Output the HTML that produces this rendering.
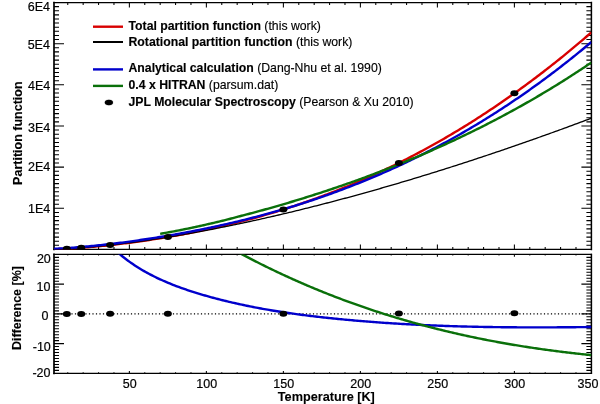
<!DOCTYPE html>
<html><head><meta charset="utf-8"><style>
html,body{margin:0;padding:0;background:#fff;}
body{width:600px;height:404px;overflow:hidden;}
svg{display:block;will-change:transform;}
</style></head><body>
<svg width="600" height="404" viewBox="0 0 600 404"><defs><clipPath id="cu"><rect x="54.00" y="2.50" width="537.40" height="246.95"/></clipPath><clipPath id="cl"><rect x="54.00" y="254.38" width="537.40" height="118.96"/></clipPath></defs><g fill="none" stroke="#000" stroke-linecap="square"><path d="M54.0,2.5H591.4M54.0,249.45H591.4M54.0,254.38H591.4M54.0,373.34H591.4" stroke-width="1.25"/><path d="M54.0,2.5V249.45M54.0,254.38V373.34" stroke-width="1.7"/><path d="M591.4,2.5V249.45M591.4,254.38V373.34" stroke-width="1.5"/></g><g fill="none" stroke="#000"><path d="M67.76,249.45v-2.45M67.76,2.5v2.45M67.76,373.34v-1.2M67.76,254.38v1.2M83.16,249.45v-2.45M83.16,2.5v2.45M83.16,373.34v-1.2M83.16,254.38v1.2M98.56,249.45v-2.45M98.56,2.5v2.45M98.56,373.34v-1.2M98.56,254.38v1.2M113.96,249.45v-2.45M113.96,2.5v2.45M113.96,373.34v-1.2M113.96,254.38v1.2M129.37,249.45v-4.9M129.37,2.5v4.9M129.37,373.34v-2.4M129.37,254.38v2.4M144.77,249.45v-2.45M144.77,2.5v2.45M144.77,373.34v-1.2M144.77,254.38v1.2M160.17,249.45v-2.45M160.17,2.5v2.45M160.17,373.34v-1.2M160.17,254.38v1.2M175.57,249.45v-2.45M175.57,2.5v2.45M175.57,373.34v-1.2M175.57,254.38v1.2M190.97,249.45v-2.45M190.97,2.5v2.45M190.97,373.34v-1.2M190.97,254.38v1.2M206.37,249.45v-4.9M206.37,2.5v4.9M206.37,373.34v-2.4M206.37,254.38v2.4M221.77,249.45v-2.45M221.77,2.5v2.45M221.77,373.34v-1.2M221.77,254.38v1.2M237.17,249.45v-2.45M237.17,2.5v2.45M237.17,373.34v-1.2M237.17,254.38v1.2M252.57,249.45v-2.45M252.57,2.5v2.45M252.57,373.34v-1.2M252.57,254.38v1.2M267.97,249.45v-2.45M267.97,2.5v2.45M267.97,373.34v-1.2M267.97,254.38v1.2M283.38,249.45v-4.9M283.38,2.5v4.9M283.38,373.34v-2.4M283.38,254.38v2.4M298.78,249.45v-2.45M298.78,2.5v2.45M298.78,373.34v-1.2M298.78,254.38v1.2M314.18,249.45v-2.45M314.18,2.5v2.45M314.18,373.34v-1.2M314.18,254.38v1.2M329.58,249.45v-2.45M329.58,2.5v2.45M329.58,373.34v-1.2M329.58,254.38v1.2M344.98,249.45v-2.45M344.98,2.5v2.45M344.98,373.34v-1.2M344.98,254.38v1.2M360.38,249.45v-4.9M360.38,2.5v4.9M360.38,373.34v-2.4M360.38,254.38v2.4M375.78,249.45v-2.45M375.78,2.5v2.45M375.78,373.34v-1.2M375.78,254.38v1.2M391.18,249.45v-2.45M391.18,2.5v2.45M391.18,373.34v-1.2M391.18,254.38v1.2M406.58,249.45v-2.45M406.58,2.5v2.45M406.58,373.34v-1.2M406.58,254.38v1.2M421.98,249.45v-2.45M421.98,2.5v2.45M421.98,373.34v-1.2M421.98,254.38v1.2M437.39,249.45v-4.9M437.39,2.5v4.9M437.39,373.34v-2.4M437.39,254.38v2.4M452.79,249.45v-2.45M452.79,2.5v2.45M452.79,373.34v-1.2M452.79,254.38v1.2M468.19,249.45v-2.45M468.19,2.5v2.45M468.19,373.34v-1.2M468.19,254.38v1.2M483.59,249.45v-2.45M483.59,2.5v2.45M483.59,373.34v-1.2M483.59,254.38v1.2M498.99,249.45v-2.45M498.99,2.5v2.45M498.99,373.34v-1.2M498.99,254.38v1.2M514.39,249.45v-4.9M514.39,2.5v4.9M514.39,373.34v-2.4M514.39,254.38v2.4M529.79,249.45v-2.45M529.79,2.5v2.45M529.79,373.34v-1.2M529.79,254.38v1.2M545.19,249.45v-2.45M545.19,2.5v2.45M545.19,373.34v-1.2M545.19,254.38v1.2M560.59,249.45v-2.45M560.59,2.5v2.45M560.59,373.34v-1.2M560.59,254.38v1.2M575.99,249.45v-2.45M575.99,2.5v2.45M575.99,373.34v-1.2M575.99,254.38v1.2M54.0,245.33h5M591.4,245.33h-5M54.0,241.22h5M591.4,241.22h-5M54.0,237.10h5M591.4,237.10h-5M54.0,232.99h5M591.4,232.99h-5M54.0,228.87h5M591.4,228.87h-5M54.0,224.75h5M591.4,224.75h-5M54.0,220.64h5M591.4,220.64h-5M54.0,216.52h5M591.4,216.52h-5M54.0,212.41h5M591.4,212.41h-5M54.0,208.29h10M591.4,208.29h-10M54.0,204.18h5M591.4,204.18h-5M54.0,200.06h5M591.4,200.06h-5M54.0,195.94h5M591.4,195.94h-5M54.0,191.83h5M591.4,191.83h-5M54.0,187.71h5M591.4,187.71h-5M54.0,183.60h5M591.4,183.60h-5M54.0,179.48h5M591.4,179.48h-5M54.0,175.37h5M591.4,175.37h-5M54.0,171.25h5M591.4,171.25h-5M54.0,167.13h10M591.4,167.13h-10M54.0,163.02h5M591.4,163.02h-5M54.0,158.90h5M591.4,158.90h-5M54.0,154.79h5M591.4,154.79h-5M54.0,150.67h5M591.4,150.67h-5M54.0,146.55h5M591.4,146.55h-5M54.0,142.44h5M591.4,142.44h-5M54.0,138.32h5M591.4,138.32h-5M54.0,134.21h5M591.4,134.21h-5M54.0,130.09h5M591.4,130.09h-5M54.0,125.97h10M591.4,125.97h-10M54.0,121.86h5M591.4,121.86h-5M54.0,117.74h5M591.4,117.74h-5M54.0,113.63h5M591.4,113.63h-5M54.0,109.51h5M591.4,109.51h-5M54.0,105.40h5M591.4,105.40h-5M54.0,101.28h5M591.4,101.28h-5M54.0,97.16h5M591.4,97.16h-5M54.0,93.05h5M591.4,93.05h-5M54.0,88.93h5M591.4,88.93h-5M54.0,84.82h10M591.4,84.82h-10M54.0,80.70h5M591.4,80.70h-5M54.0,76.59h5M591.4,76.59h-5M54.0,72.47h5M591.4,72.47h-5M54.0,68.35h5M591.4,68.35h-5M54.0,64.24h5M591.4,64.24h-5M54.0,60.12h5M591.4,60.12h-5M54.0,56.01h5M591.4,56.01h-5M54.0,51.89h5M591.4,51.89h-5M54.0,47.77h5M591.4,47.77h-5M54.0,43.66h10M591.4,43.66h-10M54.0,39.54h5M591.4,39.54h-5M54.0,35.43h5M591.4,35.43h-5M54.0,31.31h5M591.4,31.31h-5M54.0,27.19h5M591.4,27.19h-5M54.0,23.08h5M591.4,23.08h-5M54.0,18.96h5M591.4,18.96h-5M54.0,14.85h5M591.4,14.85h-5M54.0,10.73h5M591.4,10.73h-5M54.0,6.62h5M591.4,6.62h-5M54.0,370.37h5M591.4,370.37h-5M54.0,367.39h5M591.4,367.39h-5M54.0,364.42h5M591.4,364.42h-5M54.0,361.44h5M591.4,361.44h-5M54.0,358.47h5M591.4,358.47h-5M54.0,355.50h5M591.4,355.50h-5M54.0,352.52h5M591.4,352.52h-5M54.0,349.55h5M591.4,349.55h-5M54.0,346.57h5M591.4,346.57h-5M54.0,343.60h10M591.4,343.60h-10M54.0,340.63h5M591.4,340.63h-5M54.0,337.65h5M591.4,337.65h-5M54.0,334.68h5M591.4,334.68h-5M54.0,331.70h5M591.4,331.70h-5M54.0,328.73h5M591.4,328.73h-5M54.0,325.76h5M591.4,325.76h-5M54.0,322.78h5M591.4,322.78h-5M54.0,319.81h5M591.4,319.81h-5M54.0,316.83h5M591.4,316.83h-5M54.0,313.86h10M591.4,313.86h-10M54.0,310.89h5M591.4,310.89h-5M54.0,307.91h5M591.4,307.91h-5M54.0,304.94h5M591.4,304.94h-5M54.0,301.96h5M591.4,301.96h-5M54.0,298.99h5M591.4,298.99h-5M54.0,296.02h5M591.4,296.02h-5M54.0,293.04h5M591.4,293.04h-5M54.0,290.07h5M591.4,290.07h-5M54.0,287.09h5M591.4,287.09h-5M54.0,284.12h10M591.4,284.12h-10M54.0,281.15h5M591.4,281.15h-5M54.0,278.17h5M591.4,278.17h-5M54.0,275.20h5M591.4,275.20h-5M54.0,272.22h5M591.4,272.22h-5M54.0,269.25h5M591.4,269.25h-5M54.0,266.28h5M591.4,266.28h-5M54.0,263.30h5M591.4,263.30h-5M54.0,260.33h5M591.4,260.33h-5M54.0,257.35h5M591.4,257.35h-5" stroke-width="1.05"/></g><g clip-path="url(#cu)" fill="none" stroke-linejoin="round"><path d="M53.90,249.18 L55.70,249.15 L57.50,249.10 L59.29,249.04 L61.09,248.98 L62.89,248.90 L64.69,248.82 L66.48,248.73 L68.28,248.64 L70.08,248.54 L71.88,248.43 L73.67,248.32 L75.47,248.20 L77.27,248.07 L79.07,247.95 L80.86,247.81 L82.66,247.67 L84.46,247.53 L86.26,247.39 L88.06,247.24 L89.85,247.08 L91.65,246.92 L93.45,246.76 L95.25,246.59 L97.04,246.42 L98.84,246.24 L100.64,246.06 L102.44,245.88 L104.23,245.70 L106.03,245.51 L107.83,245.31 L109.63,245.12 L111.43,244.92 L113.22,244.71 L115.02,244.51 L116.82,244.30 L118.62,244.08 L120.41,243.87 L122.21,243.65 L124.01,243.42 L125.81,243.19 L127.60,242.96 L129.40,242.73 L131.20,242.50 L133.00,242.26 L134.79,242.01 L136.59,241.77 L138.39,241.52 L140.19,241.27 L141.99,241.01 L143.78,240.75 L145.58,240.49 L147.38,240.22 L149.18,239.95 L150.97,239.68 L152.77,239.41 L154.57,239.13 L156.37,238.85 L158.16,238.56 L159.96,238.27 L161.76,237.98 L163.56,237.69 L165.35,237.39 L167.15,237.09 L168.95,236.78 L170.75,236.47 L172.55,236.16 L174.34,235.85 L176.14,235.53 L177.94,235.20 L179.74,234.88 L181.53,234.55 L183.33,234.22 L185.13,233.88 L186.93,233.54 L188.72,233.20 L190.52,232.85 L192.32,232.50 L194.12,232.14 L195.92,231.78 L197.71,231.42 L199.51,231.05 L201.31,230.68 L203.11,230.31 L204.90,229.93 L206.70,229.55 L208.50,229.17 L210.30,228.78 L212.09,228.39 L213.89,227.99 L215.69,227.59 L217.49,227.18 L219.28,226.78 L221.08,226.36 L222.88,225.95 L224.68,225.53 L226.48,225.10 L228.27,224.67 L230.07,224.24 L231.87,223.80 L233.67,223.36 L235.46,222.92 L237.26,222.47 L239.06,222.01 L240.86,221.56 L242.65,221.09 L244.45,220.63 L246.25,220.16 L248.05,219.68 L249.84,219.20 L251.64,218.72 L253.44,218.23 L255.24,217.74 L257.04,217.24 L258.83,216.74 L260.63,216.24 L262.43,215.73 L264.23,215.21 L266.02,214.70 L267.82,214.17 L269.62,213.65 L271.42,213.11 L273.21,212.58 L275.01,212.04 L276.81,211.49 L278.61,210.94 L280.41,210.39 L282.20,209.83 L284.00,209.26 L285.80,208.69 L287.60,208.12 L289.39,207.54 L291.19,206.96 L292.99,206.37 L294.79,205.78 L296.58,205.19 L298.38,204.58 L300.18,203.98 L301.98,203.37 L303.77,202.75 L305.57,202.13 L307.37,201.50 L309.17,200.87 L310.97,200.24 L312.76,199.60 L314.56,198.95 L316.36,198.30 L318.16,197.65 L319.95,196.99 L321.75,196.32 L323.55,195.65 L325.35,194.98 L327.14,194.30 L328.94,193.61 L330.74,192.92 L332.54,192.23 L334.33,191.53 L336.13,190.82 L337.93,190.11 L339.73,189.40 L341.53,188.68 L343.32,187.95 L345.12,187.22 L346.92,186.49 L348.72,185.75 L350.51,185.00 L352.31,184.25 L354.11,183.49 L355.91,182.73 L357.70,181.96 L359.50,181.19 L361.30,180.41 L363.10,179.63 L364.89,178.84 L366.69,178.05 L368.49,177.25 L370.29,176.44 L372.09,175.63 L373.88,174.82 L375.68,174.00 L377.48,173.17 L379.28,172.34 L381.07,171.50 L382.87,170.66 L384.67,169.81 L386.47,168.96 L388.26,168.10 L390.06,167.24 L391.86,166.37 L393.66,165.49 L395.46,164.61 L397.25,163.72 L399.05,162.83 L400.85,161.93 L402.65,161.03 L404.44,160.12 L406.24,159.21 L408.04,158.29 L409.84,157.36 L411.63,156.43 L413.43,155.49 L415.23,154.55 L417.03,153.60 L418.82,152.64 L420.62,151.68 L422.42,150.72 L424.22,149.75 L426.02,148.77 L427.81,147.79 L429.61,146.80 L431.41,145.80 L433.21,144.80 L435.00,143.79 L436.80,142.78 L438.60,141.76 L440.40,140.74 L442.19,139.71 L443.99,138.67 L445.79,137.63 L447.59,136.58 L449.38,135.53 L451.18,134.47 L452.98,133.40 L454.78,132.33 L456.58,131.25 L458.37,130.17 L460.17,129.08 L461.97,127.98 L463.77,126.88 L465.56,125.77 L467.36,124.66 L469.16,123.54 L470.96,122.41 L472.75,121.28 L474.55,120.14 L476.35,118.99 L478.15,117.84 L479.95,116.68 L481.74,115.52 L483.54,114.35 L485.34,113.17 L487.14,111.99 L488.93,110.80 L490.73,109.61 L492.53,108.41 L494.33,107.20 L496.12,105.99 L497.92,104.77 L499.72,103.54 L501.52,102.31 L503.31,101.07 L505.11,99.83 L506.91,98.57 L508.71,97.32 L510.51,96.05 L512.30,94.78 L514.10,93.50 L515.90,92.22 L517.70,90.93 L519.49,89.64 L521.29,88.33 L523.09,87.02 L524.89,85.71 L526.68,84.39 L528.48,83.06 L530.28,81.72 L532.08,80.38 L533.87,79.03 L535.67,77.68 L537.47,76.31 L539.27,74.95 L541.07,73.57 L542.86,72.19 L544.66,70.80 L546.46,69.41 L548.26,68.01 L550.05,66.60 L551.85,65.18 L553.65,63.76 L555.45,62.34 L557.24,60.90 L559.04,59.46 L560.84,58.01 L562.64,56.56 L564.44,55.10 L566.23,53.63 L568.03,52.15 L569.83,50.67 L571.63,49.18 L573.42,47.69 L575.22,46.18 L577.02,44.68 L578.82,43.16 L580.61,41.64 L582.41,40.11 L584.21,38.57 L586.01,37.03 L587.80,35.48 L589.60,33.92 L591.40,32.36" stroke="#d80000" stroke-width="2.4"/><path d="M53.90,249.18 L55.70,249.15 L57.50,249.10 L59.29,249.04 L61.09,248.98 L62.89,248.90 L64.69,248.82 L66.48,248.73 L68.28,248.64 L70.08,248.54 L71.88,248.43 L73.67,248.32 L75.47,248.20 L77.27,248.07 L79.07,247.95 L80.86,247.81 L82.66,247.67 L84.46,247.53 L86.26,247.39 L88.06,247.24 L89.85,247.08 L91.65,246.92 L93.45,246.76 L95.25,246.59 L97.04,246.42 L98.84,246.24 L100.64,246.06 L102.44,245.88 L104.23,245.70 L106.03,245.51 L107.83,245.31 L109.63,245.12 L111.43,244.92 L113.22,244.71 L115.02,244.51 L116.82,244.30 L118.62,244.08 L120.41,243.87 L122.21,243.65 L124.01,243.43 L125.81,243.20 L127.60,242.97 L129.40,242.74 L131.20,242.51 L133.00,242.27 L134.79,242.03 L136.59,241.78 L138.39,241.54 L140.19,241.29 L141.99,241.04 L143.78,240.78 L145.58,240.52 L147.38,240.26 L149.18,240.00 L150.97,239.74 L152.77,239.47 L154.57,239.20 L156.37,238.92 L158.16,238.65 L159.96,238.37 L161.76,238.09 L163.56,237.80 L165.35,237.52 L167.15,237.23 L168.95,236.94 L170.75,236.64 L172.55,236.35 L174.34,236.05 L176.14,235.75 L177.94,235.44 L179.74,235.14 L181.53,234.83 L183.33,234.52 L185.13,234.21 L186.93,233.89 L188.72,233.57 L190.52,233.25 L192.32,232.93 L194.12,232.61 L195.92,232.28 L197.71,231.95 L199.51,231.62 L201.31,231.29 L203.11,230.95 L204.90,230.61 L206.70,230.27 L208.50,229.93 L210.30,229.59 L212.09,229.24 L213.89,228.89 L215.69,228.54 L217.49,228.19 L219.28,227.83 L221.08,227.48 L222.88,227.12 L224.68,226.76 L226.48,226.39 L228.27,226.03 L230.07,225.66 L231.87,225.29 L233.67,224.92 L235.46,224.55 L237.26,224.17 L239.06,223.79 L240.86,223.41 L242.65,223.03 L244.45,222.65 L246.25,222.26 L248.05,221.88 L249.84,221.49 L251.64,221.10 L253.44,220.70 L255.24,220.31 L257.04,219.91 L258.83,219.51 L260.63,219.11 L262.43,218.71 L264.23,218.30 L266.02,217.90 L267.82,217.49 L269.62,217.08 L271.42,216.67 L273.21,216.25 L275.01,215.84 L276.81,215.42 L278.61,215.00 L280.41,214.58 L282.20,214.16 L284.00,213.73 L285.80,213.30 L287.60,212.88 L289.39,212.45 L291.19,212.01 L292.99,211.58 L294.79,211.14 L296.58,210.71 L298.38,210.27 L300.18,209.83 L301.98,209.38 L303.77,208.94 L305.57,208.49 L307.37,208.04 L309.17,207.59 L310.97,207.14 L312.76,206.69 L314.56,206.24 L316.36,205.78 L318.16,205.32 L319.95,204.86 L321.75,204.40 L323.55,203.94 L325.35,203.47 L327.14,203.00 L328.94,202.54 L330.74,202.07 L332.54,201.59 L334.33,201.12 L336.13,200.65 L337.93,200.17 L339.73,199.69 L341.53,199.21 L343.32,198.73 L345.12,198.25 L346.92,197.76 L348.72,197.27 L350.51,196.79 L352.31,196.30 L354.11,195.81 L355.91,195.31 L357.70,194.82 L359.50,194.32 L361.30,193.82 L363.10,193.33 L364.89,192.82 L366.69,192.32 L368.49,191.82 L370.29,191.31 L372.09,190.81 L373.88,190.30 L375.68,189.79 L377.48,189.27 L379.28,188.76 L381.07,188.25 L382.87,187.73 L384.67,187.21 L386.47,186.69 L388.26,186.17 L390.06,185.65 L391.86,185.12 L393.66,184.60 L395.46,184.07 L397.25,183.54 L399.05,183.01 L400.85,182.48 L402.65,181.95 L404.44,181.41 L406.24,180.88 L408.04,180.34 L409.84,179.80 L411.63,179.26 L413.43,178.72 L415.23,178.17 L417.03,177.63 L418.82,177.08 L420.62,176.53 L422.42,175.98 L424.22,175.43 L426.02,174.88 L427.81,174.33 L429.61,173.77 L431.41,173.22 L433.21,172.66 L435.00,172.10 L436.80,171.54 L438.60,170.97 L440.40,170.41 L442.19,169.84 L443.99,169.28 L445.79,168.71 L447.59,168.14 L449.38,167.57 L451.18,167.00 L452.98,166.42 L454.78,165.85 L456.58,165.27 L458.37,164.69 L460.17,164.11 L461.97,163.53 L463.77,162.95 L465.56,162.37 L467.36,161.78 L469.16,161.19 L470.96,160.61 L472.75,160.02 L474.55,159.43 L476.35,158.83 L478.15,158.24 L479.95,157.65 L481.74,157.05 L483.54,156.45 L485.34,155.85 L487.14,155.25 L488.93,154.65 L490.73,154.05 L492.53,153.44 L494.33,152.84 L496.12,152.23 L497.92,151.62 L499.72,151.01 L501.52,150.40 L503.31,149.79 L505.11,149.18 L506.91,148.56 L508.71,147.94 L510.51,147.33 L512.30,146.71 L514.10,146.09 L515.90,145.47 L517.70,144.84 L519.49,144.22 L521.29,143.59 L523.09,142.97 L524.89,142.34 L526.68,141.71 L528.48,141.08 L530.28,140.44 L532.08,139.81 L533.87,139.18 L535.67,138.54 L537.47,137.90 L539.27,137.26 L541.07,136.62 L542.86,135.98 L544.66,135.34 L546.46,134.70 L548.26,134.05 L550.05,133.40 L551.85,132.76 L553.65,132.11 L555.45,131.46 L557.24,130.81 L559.04,130.15 L560.84,129.50 L562.64,128.84 L564.44,128.19 L566.23,127.53 L568.03,126.87 L569.83,126.21 L571.63,125.55 L573.42,124.89 L575.22,124.22 L577.02,123.56 L578.82,122.89 L580.61,122.22 L582.41,121.55 L584.21,120.88 L586.01,120.21 L587.80,119.54 L589.60,118.86 L591.40,118.19" stroke="#000" stroke-width="1.3"/><path d="M53.90,248.90 L55.70,248.77 L57.50,248.66 L59.29,248.56 L61.09,248.45 L62.89,248.34 L64.69,248.23 L66.48,248.11 L68.28,247.99 L70.08,247.86 L71.88,247.73 L73.67,247.60 L75.47,247.46 L77.27,247.31 L79.07,247.17 L80.86,247.02 L82.66,246.86 L84.46,246.70 L86.26,246.54 L88.06,246.38 L89.85,246.21 L91.65,246.03 L93.45,245.85 L95.25,245.67 L97.04,245.49 L98.84,245.30 L100.64,245.11 L102.44,244.92 L104.23,244.72 L106.03,244.52 L107.83,244.31 L109.63,244.10 L111.43,243.89 L113.22,243.68 L115.02,243.46 L116.82,243.24 L118.62,243.02 L120.41,242.79 L122.21,242.57 L124.01,242.33 L125.81,242.09 L127.60,241.84 L129.40,241.60 L131.20,241.35 L133.00,241.10 L134.79,240.84 L136.59,240.58 L138.39,240.33 L140.19,240.06 L141.99,239.80 L143.78,239.53 L145.58,239.26 L147.38,238.99 L149.18,238.71 L150.97,238.43 L152.77,238.15 L154.57,237.87 L156.37,237.58 L158.16,237.29 L159.96,237.00 L161.76,236.71 L163.56,236.41 L165.35,236.11 L167.15,235.81 L168.95,235.50 L170.75,235.19 L172.55,234.88 L174.34,234.57 L176.14,234.25 L177.94,233.93 L179.74,233.60 L181.53,233.28 L183.33,232.95 L185.13,232.61 L186.93,232.28 L188.72,231.94 L190.52,231.60 L192.32,231.25 L194.12,230.90 L195.92,230.55 L197.71,230.20 L199.51,229.84 L201.31,229.48 L203.11,229.11 L204.90,228.75 L206.70,228.37 L208.50,228.00 L210.30,227.62 L212.09,227.24 L213.89,226.86 L215.69,226.47 L217.49,226.08 L219.28,225.69 L221.08,225.29 L222.88,224.89 L224.68,224.48 L226.48,224.08 L228.27,223.67 L230.07,223.25 L231.87,222.83 L233.67,222.41 L235.46,221.99 L237.26,221.56 L239.06,221.12 L240.86,220.69 L242.65,220.25 L244.45,219.80 L246.25,219.36 L248.05,218.91 L249.84,218.45 L251.64,217.99 L253.44,217.53 L255.24,217.06 L257.04,216.59 L258.83,216.12 L260.63,215.64 L262.43,215.16 L264.23,214.67 L266.02,214.18 L267.82,213.69 L269.62,213.19 L271.42,212.69 L273.21,212.19 L275.01,211.68 L276.81,211.16 L278.61,210.64 L280.41,210.12 L282.20,209.60 L284.00,209.07 L285.80,208.53 L287.60,207.99 L289.39,207.45 L291.19,206.90 L292.99,206.35 L294.79,205.79 L296.58,205.23 L298.38,204.67 L300.18,204.10 L301.98,203.53 L303.77,202.95 L305.57,202.37 L307.37,201.78 L309.17,201.19 L310.97,200.60 L312.76,200.00 L314.56,199.39 L316.36,198.79 L318.16,198.17 L319.95,197.56 L321.75,196.93 L323.55,196.31 L325.35,195.68 L327.14,195.04 L328.94,194.40 L330.74,193.76 L332.54,193.11 L334.33,192.46 L336.13,191.80 L337.93,191.14 L339.73,190.47 L341.53,189.80 L343.32,189.12 L345.12,188.44 L346.92,187.75 L348.72,187.06 L350.51,186.37 L352.31,185.67 L354.11,184.96 L355.91,184.25 L357.70,183.54 L359.50,182.82 L361.30,182.09 L363.10,181.37 L364.89,180.63 L366.69,179.89 L368.49,179.15 L370.29,178.40 L372.09,177.65 L373.88,176.89 L375.68,176.12 L377.48,175.35 L379.28,174.58 L381.07,173.80 L382.87,173.02 L384.67,172.23 L386.47,171.43 L388.26,170.63 L390.06,169.83 L391.86,169.02 L393.66,168.20 L395.46,167.38 L397.25,166.56 L399.05,165.73 L400.85,164.89 L402.65,164.05 L404.44,163.20 L406.24,162.35 L408.04,161.49 L409.84,160.63 L411.63,159.76 L413.43,158.88 L415.23,158.00 L417.03,157.12 L418.82,156.23 L420.62,155.33 L422.42,154.43 L424.22,153.52 L426.02,152.61 L427.81,151.69 L429.61,150.77 L431.41,149.84 L433.21,148.90 L435.00,147.96 L436.80,147.01 L438.60,146.06 L440.40,145.10 L442.19,144.14 L443.99,143.17 L445.79,142.19 L447.59,141.21 L449.38,140.22 L451.18,139.23 L452.98,138.23 L454.78,137.22 L456.58,136.21 L458.37,135.19 L460.17,134.17 L461.97,133.14 L463.77,132.11 L465.56,131.06 L467.36,130.02 L469.16,128.96 L470.96,127.90 L472.75,126.84 L474.55,125.76 L476.35,124.69 L478.15,123.60 L479.95,122.51 L481.74,121.41 L483.54,120.31 L485.34,119.20 L487.14,118.09 L488.93,116.96 L490.73,115.84 L492.53,114.70 L494.33,113.56 L496.12,112.41 L497.92,111.26 L499.72,110.10 L501.52,108.93 L503.31,107.76 L505.11,106.58 L506.91,105.39 L508.71,104.20 L510.51,103.00 L512.30,101.80 L514.10,100.58 L515.90,99.37 L517.70,98.14 L519.49,96.91 L521.29,95.67 L523.09,94.42 L524.89,93.17 L526.68,91.91 L528.48,90.65 L530.28,89.38 L532.08,88.10 L533.87,86.81 L535.67,85.52 L537.47,84.22 L539.27,82.91 L541.07,81.60 L542.86,80.28 L544.66,78.95 L546.46,77.62 L548.26,76.28 L550.05,74.93 L551.85,73.58 L553.65,72.22 L555.45,70.85 L557.24,69.47 L559.04,68.09 L560.84,66.70 L562.64,65.31 L564.44,63.90 L566.23,62.49 L568.03,61.07 L569.83,59.65 L571.63,58.22 L573.42,56.78 L575.22,55.33 L577.02,53.88 L578.82,52.42 L580.61,50.95 L582.41,49.48 L584.21,48.00 L586.01,46.51 L587.80,45.01 L589.60,43.51 L591.40,42.00" stroke="#0000cc" stroke-width="2.4"/><path d="M160.17,233.86 L161.90,233.55 L163.63,233.24 L165.36,232.93 L167.09,232.61 L168.83,232.29 L170.56,231.97 L172.29,231.64 L174.02,231.32 L175.75,230.98 L177.49,230.65 L179.22,230.31 L180.95,229.97 L182.68,229.62 L184.41,229.27 L186.14,228.92 L187.88,228.57 L189.61,228.21 L191.34,227.85 L193.07,227.48 L194.80,227.11 L196.54,226.74 L198.27,226.36 L200.00,225.98 L201.73,225.60 L203.46,225.21 L205.20,224.82 L206.93,224.43 L208.66,224.03 L210.39,223.63 L212.12,223.23 L213.85,222.82 L215.59,222.41 L217.32,221.99 L219.05,221.57 L220.78,221.15 L222.51,220.72 L224.25,220.29 L225.98,219.86 L227.71,219.42 L229.44,218.98 L231.17,218.53 L232.91,218.08 L234.64,217.63 L236.37,217.17 L238.10,216.71 L239.83,216.24 L241.56,215.77 L243.30,215.33 L245.03,214.88 L246.76,214.43 L248.49,213.97 L250.22,213.51 L251.96,213.05 L253.69,212.59 L255.42,212.12 L257.15,211.65 L258.88,211.18 L260.61,210.71 L262.35,210.23 L264.08,209.75 L265.81,209.27 L267.54,208.79 L269.27,208.30 L271.01,207.81 L272.74,207.32 L274.47,206.83 L276.20,206.33 L277.93,205.83 L279.67,205.33 L281.40,204.83 L283.13,204.32 L284.86,203.81 L286.59,203.30 L288.32,202.79 L290.06,202.27 L291.79,201.75 L293.52,201.23 L295.25,200.71 L296.98,200.18 L298.72,199.65 L300.45,199.12 L302.18,198.58 L303.91,198.05 L305.64,197.51 L307.38,196.96 L309.11,196.42 L310.84,195.87 L312.57,195.32 L314.30,194.76 L316.03,194.21 L317.77,193.65 L319.50,193.09 L321.23,192.52 L322.96,191.96 L324.69,191.39 L326.43,190.81 L328.16,190.24 L329.89,189.66 L331.62,189.08 L333.35,188.50 L335.08,187.91 L336.82,187.32 L338.55,186.73 L340.28,186.14 L342.01,185.54 L343.74,184.94 L345.48,184.33 L347.21,183.73 L348.94,183.12 L350.67,182.51 L352.40,181.89 L354.14,181.27 L355.87,180.65 L357.60,180.03 L359.33,179.40 L361.06,178.77 L362.79,178.14 L364.53,177.51 L366.26,176.87 L367.99,176.23 L369.72,175.58 L371.45,174.94 L373.19,174.29 L374.92,173.63 L376.65,172.98 L378.38,172.32 L380.11,171.65 L381.85,170.99 L383.58,170.32 L385.31,169.65 L387.04,168.97 L388.77,168.29 L390.50,167.61 L392.24,166.93 L393.97,166.24 L395.70,165.55 L397.43,164.86 L399.16,164.16 L400.90,163.46 L402.63,162.75 L404.36,162.05 L406.09,161.34 L407.82,160.62 L409.55,159.91 L411.29,159.19 L413.02,158.46 L414.75,157.74 L416.48,157.00 L418.21,156.27 L419.95,155.53 L421.68,154.79 L423.41,154.05 L425.14,153.30 L426.87,152.55 L428.61,151.80 L430.34,151.04 L432.07,150.28 L433.80,149.51 L435.53,148.74 L437.26,147.97 L439.00,147.19 L440.73,146.42 L442.46,145.63 L444.19,144.85 L445.92,144.06 L447.66,143.26 L449.39,142.46 L451.12,141.66 L452.85,140.86 L454.58,140.05 L456.31,139.23 L458.05,138.42 L459.78,137.60 L461.51,136.77 L463.24,135.95 L464.97,135.11 L466.71,134.28 L468.44,133.44 L470.17,132.59 L471.90,131.75 L473.63,130.89 L475.37,130.04 L477.10,129.18 L478.83,128.32 L480.56,127.45 L482.29,126.58 L484.02,125.70 L485.76,124.82 L487.49,123.94 L489.22,123.05 L490.95,122.16 L492.68,121.26 L494.42,120.36 L496.15,119.45 L497.88,118.54 L499.61,117.63 L501.34,116.71 L503.08,115.79 L504.81,114.86 L506.54,113.93 L508.27,113.00 L510.00,112.06 L511.73,111.11 L513.47,110.17 L515.20,109.21 L516.93,108.26 L518.66,107.29 L520.39,106.33 L522.13,105.36 L523.86,104.38 L525.59,103.40 L527.32,102.41 L529.05,101.42 L530.78,100.43 L532.52,99.43 L534.25,98.43 L535.98,97.42 L537.71,96.41 L539.44,95.39 L541.18,94.37 L542.91,93.34 L544.64,92.31 L546.37,91.27 L548.10,90.23 L549.84,89.18 L551.57,88.13 L553.30,87.07 L555.03,86.01 L556.76,84.94 L558.49,83.87 L560.23,82.79 L561.96,81.71 L563.69,80.62 L565.42,79.53 L567.15,78.43 L568.89,77.33 L570.62,76.22 L572.35,75.11 L574.08,73.99 L575.81,72.86 L577.55,71.74 L579.28,70.60 L581.01,69.46 L582.74,68.32 L584.47,67.17 L586.20,66.01 L587.94,64.85 L589.67,63.68 L591.40,62.51" stroke="#0a700a" stroke-width="2.4"/></g><g clip-path="url(#cu)"><ellipse cx="66.80" cy="248.72" rx="4" ry="3" fill="#000"/><ellipse cx="81.24" cy="247.78" rx="4" ry="3" fill="#000"/><ellipse cx="110.11" cy="245.06" rx="4" ry="3" fill="#000"/><ellipse cx="167.87" cy="236.97" rx="4" ry="3" fill="#000"/><ellipse cx="283.38" cy="209.46" rx="4" ry="3" fill="#000"/><ellipse cx="398.88" cy="162.91" rx="4" ry="3" fill="#000"/><ellipse cx="514.39" cy="93.30" rx="4" ry="3" fill="#000"/></g><g clip-path="url(#cl)" fill="none" stroke-linejoin="round"><line x1="53.9" y1="313.9" x2="591.4" y2="313.9" stroke="#000" stroke-width="1.2" stroke-dasharray="1.2 2.3"/><path d="M112.00,247.37 L113.60,248.85 L115.21,250.30 L116.81,251.71 L118.41,253.09 L120.02,254.44 L121.62,255.75 L123.22,257.03 L124.83,258.28 L126.43,259.50 L128.03,260.69 L129.64,261.85 L131.24,262.98 L132.84,264.08 L134.45,265.16 L136.05,266.21 L137.65,267.24 L139.26,268.24 L140.86,269.21 L142.46,270.16 L144.07,271.09 L145.67,272.00 L147.27,272.89 L148.88,273.75 L150.48,274.60 L152.08,275.43 L153.69,276.24 L155.29,277.03 L156.89,277.80 L158.50,278.56 L160.10,279.30 L161.70,280.03 L163.31,280.75 L164.91,281.45 L166.51,282.14 L168.12,282.81 L169.72,283.47 L171.32,284.13 L172.93,284.76 L174.53,285.39 L176.13,286.01 L177.74,286.61 L179.34,287.21 L180.94,287.79 L182.55,288.37 L184.15,288.93 L185.75,289.49 L187.36,290.03 L188.96,290.57 L190.56,291.10 L192.17,291.62 L193.77,292.13 L195.37,292.63 L196.98,293.13 L198.58,293.62 L200.18,294.10 L201.79,294.58 L203.39,295.04 L204.99,295.51 L206.60,295.96 L208.20,296.42 L209.80,296.86 L211.41,297.30 L213.01,297.74 L214.61,298.17 L216.22,298.59 L217.82,299.01 L219.42,299.42 L221.03,299.83 L222.63,300.24 L224.23,300.64 L225.84,301.03 L227.44,301.42 L229.04,301.80 L230.65,302.18 L232.25,302.55 L233.85,302.92 L235.46,303.29 L237.06,303.65 L238.66,304.00 L240.27,304.35 L241.87,304.70 L243.47,305.04 L245.08,305.38 L246.68,305.71 L248.28,306.04 L249.89,306.36 L251.49,306.68 L253.09,307.00 L254.70,307.31 L256.30,307.62 L257.90,307.92 L259.51,308.22 L261.11,308.52 L262.71,308.81 L264.32,309.09 L265.92,309.38 L267.52,309.66 L269.13,309.93 L270.73,310.21 L272.33,310.48 L273.94,310.74 L275.54,311.00 L277.14,311.26 L278.75,311.52 L280.35,311.77 L281.95,312.01 L283.56,312.26 L285.16,312.50 L286.76,312.74 L288.37,312.97 L289.97,313.21 L291.57,313.43 L293.18,313.66 L294.78,313.88 L296.38,314.10 L297.99,314.32 L299.59,314.53 L301.19,314.75 L302.80,314.95 L304.40,315.16 L306.00,315.36 L307.61,315.57 L309.21,315.76 L310.81,315.96 L312.42,316.15 L314.02,316.34 L315.62,316.53 L317.23,316.72 L318.83,316.90 L320.43,317.08 L322.04,317.26 L323.64,317.44 L325.24,317.62 L326.85,317.79 L328.45,317.96 L330.05,318.13 L331.66,318.30 L333.26,318.46 L334.86,318.63 L336.47,318.79 L338.07,318.95 L339.67,319.11 L341.28,319.26 L342.88,319.42 L344.48,319.57 L346.09,319.72 L347.69,319.87 L349.29,320.02 L350.90,320.16 L352.50,320.31 L354.11,320.45 L355.71,320.59 L357.31,320.73 L358.92,320.87 L360.52,321.00 L362.12,321.13 L363.73,321.27 L365.33,321.40 L366.93,321.52 L368.54,321.65 L370.14,321.78 L371.74,321.90 L373.35,322.02 L374.95,322.14 L376.55,322.26 L378.16,322.38 L379.76,322.49 L381.36,322.60 L382.97,322.72 L384.57,322.83 L386.17,322.94 L387.78,323.04 L389.38,323.15 L390.98,323.25 L392.59,323.36 L394.19,323.46 L395.79,323.56 L397.40,323.65 L399.00,323.75 L400.60,323.85 L402.21,323.94 L403.81,324.03 L405.41,324.12 L407.02,324.21 L408.62,324.30 L410.22,324.38 L411.83,324.47 L413.43,324.55 L415.03,324.63 L416.64,324.71 L418.24,324.79 L419.84,324.87 L421.45,324.95 L423.05,325.02 L424.65,325.10 L426.26,325.17 L427.86,325.24 L429.46,325.31 L431.07,325.38 L432.67,325.44 L434.27,325.51 L435.88,325.57 L437.48,325.64 L439.08,325.70 L440.69,325.76 L442.29,325.82 L443.89,325.87 L445.50,325.93 L447.10,325.99 L448.70,326.04 L450.31,326.09 L451.91,326.14 L453.51,326.20 L455.12,326.24 L456.72,326.29 L458.32,326.34 L459.93,326.39 L461.53,326.43 L463.13,326.47 L464.74,326.52 L466.34,326.56 L467.94,326.60 L469.55,326.64 L471.15,326.67 L472.75,326.71 L474.36,326.75 L475.96,326.78 L477.56,326.81 L479.17,326.85 L480.77,326.88 L482.37,326.91 L483.98,326.94 L485.58,326.96 L487.18,326.99 L488.79,327.02 L490.39,327.04 L491.99,327.07 L493.60,327.09 L495.20,327.11 L496.80,327.13 L498.41,327.15 L500.01,327.17 L501.61,327.19 L503.22,327.21 L504.82,327.23 L506.42,327.24 L508.03,327.26 L509.63,327.27 L511.23,327.28 L512.84,327.30 L514.44,327.31 L516.04,327.32 L517.65,327.33 L519.25,327.34 L520.85,327.34 L522.46,327.35 L524.06,327.36 L525.66,327.36 L527.27,327.37 L528.87,327.37 L530.47,327.37 L532.08,327.38 L533.68,327.38 L535.28,327.38 L536.89,327.38 L538.49,327.38 L540.09,327.38 L541.70,327.38 L543.30,327.37 L544.90,327.37 L546.51,327.36 L548.11,327.36 L549.71,327.35 L551.32,327.35 L552.92,327.34 L554.52,327.33 L556.13,327.33 L557.73,327.32 L559.33,327.31 L560.94,327.30 L562.54,327.29 L564.14,327.28 L565.75,327.26 L567.35,327.25 L568.95,327.24 L570.56,327.23 L572.16,327.21 L573.76,327.20 L575.37,327.18 L576.97,327.17 L578.57,327.15 L580.18,327.13 L581.78,327.12 L583.38,327.10 L584.99,327.08 L586.59,327.06 L588.19,327.05 L589.80,327.03 L591.40,327.01" stroke="#0000cc" stroke-width="2.4"/><path d="M236.00,251.11 L237.43,251.88 L238.85,252.64 L240.28,253.41 L241.71,254.17 L243.14,254.92 L244.56,255.68 L245.99,256.43 L247.42,257.17 L248.85,257.92 L250.27,258.66 L251.70,259.39 L253.13,260.12 L254.56,260.85 L255.98,261.58 L257.41,262.30 L258.84,263.02 L260.26,263.74 L261.69,264.45 L263.12,265.16 L264.55,265.87 L265.97,266.57 L267.40,267.27 L268.83,267.96 L270.26,268.66 L271.68,269.34 L273.11,270.03 L274.54,270.71 L275.96,271.39 L277.39,272.07 L278.82,272.74 L280.25,273.41 L281.67,274.08 L283.10,274.74 L284.53,275.40 L285.96,276.06 L287.38,276.71 L288.81,277.36 L290.24,278.01 L291.67,278.65 L293.09,279.29 L294.52,279.93 L295.95,280.57 L297.37,281.20 L298.80,281.83 L300.23,282.45 L301.66,283.07 L303.08,283.69 L304.51,284.31 L305.94,284.92 L307.37,285.53 L308.79,286.14 L310.22,286.74 L311.65,287.34 L313.07,287.94 L314.50,288.53 L315.93,289.12 L317.36,289.71 L318.78,290.29 L320.21,290.88 L321.64,291.46 L323.07,292.03 L324.49,292.60 L325.92,293.17 L327.35,293.74 L328.78,294.30 L330.20,294.87 L331.63,295.42 L333.06,295.98 L334.48,296.53 L335.91,297.08 L337.34,297.62 L338.77,298.17 L340.19,298.71 L341.62,299.25 L343.05,299.78 L344.48,300.31 L345.90,300.84 L347.33,301.36 L348.76,301.89 L350.18,302.41 L351.61,302.92 L353.04,303.44 L354.47,303.95 L355.89,304.46 L357.32,304.96 L358.75,305.47 L360.18,305.97 L361.60,306.46 L363.03,306.96 L364.46,307.45 L365.89,307.94 L367.31,308.42 L368.74,308.91 L370.17,309.39 L371.59,309.86 L373.02,310.34 L374.45,310.81 L375.88,311.28 L377.30,311.75 L378.73,312.21 L380.16,312.67 L381.59,313.13 L383.01,313.59 L384.44,314.04 L385.87,314.49 L387.29,314.94 L388.72,315.38 L390.15,315.82 L391.58,316.26 L393.00,316.70 L394.43,317.14 L395.86,317.57 L397.29,318.00 L398.71,318.42 L400.14,318.85 L401.57,319.27 L403.00,319.69 L404.42,320.10 L405.85,320.52 L407.28,320.93 L408.70,321.33 L410.13,321.74 L411.56,322.14 L412.99,322.54 L414.41,322.94 L415.84,323.34 L417.27,323.73 L418.70,324.12 L420.12,324.51 L421.55,324.90 L422.98,325.28 L424.40,325.66 L425.83,326.04 L427.26,326.41 L428.69,326.79 L430.11,327.16 L431.54,327.52 L432.97,327.89 L434.40,328.25 L435.82,328.62 L437.25,328.97 L438.68,329.33 L440.11,329.68 L441.53,330.03 L442.96,330.38 L444.39,330.73 L445.81,331.07 L447.24,331.42 L448.67,331.76 L450.10,332.09 L451.52,332.43 L452.95,332.76 L454.38,333.09 L455.81,333.42 L457.23,333.74 L458.66,334.07 L460.09,334.39 L461.51,334.71 L462.94,335.02 L464.37,335.34 L465.80,335.65 L467.22,335.96 L468.65,336.27 L470.08,336.57 L471.51,336.87 L472.93,337.17 L474.36,337.47 L475.79,337.77 L477.22,338.06 L478.64,338.35 L480.07,338.64 L481.50,338.93 L482.92,339.22 L484.35,339.50 L485.78,339.78 L487.21,340.06 L488.63,340.33 L490.06,340.61 L491.49,340.88 L492.92,341.15 L494.34,341.42 L495.77,341.69 L497.20,341.95 L498.62,342.21 L500.05,342.47 L501.48,342.73 L502.91,342.98 L504.33,343.24 L505.76,343.49 L507.19,343.74 L508.62,343.99 L510.04,344.23 L511.47,344.47 L512.90,344.72 L514.33,344.95 L515.75,345.19 L517.18,345.43 L518.61,345.66 L520.03,345.89 L521.46,346.12 L522.89,346.35 L524.32,346.57 L525.74,346.80 L527.17,347.02 L528.60,347.24 L530.03,347.46 L531.45,347.67 L532.88,347.89 L534.31,348.10 L535.73,348.31 L537.16,348.52 L538.59,348.72 L540.02,348.93 L541.44,349.13 L542.87,349.33 L544.30,349.53 L545.73,349.72 L547.15,349.92 L548.58,350.11 L550.01,350.30 L551.44,350.49 L552.86,350.68 L554.29,350.87 L555.72,351.05 L557.14,351.24 L558.57,351.42 L560.00,351.59 L561.43,351.77 L562.85,351.95 L564.28,352.12 L565.71,352.29 L567.14,352.46 L568.56,352.63 L569.99,352.80 L571.42,352.96 L572.84,353.13 L574.27,353.29 L575.70,353.45 L577.13,353.61 L578.55,353.76 L579.98,353.92 L581.41,354.07 L582.84,354.22 L584.26,354.37 L585.69,354.52 L587.12,354.67 L588.55,354.81 L589.97,354.96 L591.40,355.10" stroke="#0a700a" stroke-width="2.4"/></g><ellipse cx="66.80" cy="314.00" rx="4" ry="3" fill="#000"/><ellipse cx="81.24" cy="314.00" rx="4" ry="3" fill="#000"/><ellipse cx="110.11" cy="313.85" rx="4" ry="3" fill="#000"/><ellipse cx="167.87" cy="313.80" rx="4" ry="3" fill="#000"/><ellipse cx="283.38" cy="313.70" rx="4" ry="3" fill="#000"/><ellipse cx="398.88" cy="313.50" rx="4" ry="3" fill="#000"/><ellipse cx="514.39" cy="313.25" rx="4" ry="3" fill="#000"/><g font-family="Liberation Sans, sans-serif" font-size="12.5" fill="#000" stroke="#000" stroke-width="0.2"><text x="50.0" y="10.9" text-anchor="end">6E4</text><text x="49.9" y="48.8" text-anchor="end">5E4</text><text x="50.3" y="89.8" text-anchor="end">4E4</text><text x="50.3" y="131.7" text-anchor="end">3E4</text><text x="50.3" y="170.8" text-anchor="end">2E4</text><text x="50.3" y="213.0" text-anchor="end">1E4</text><text x="50.8" y="263.3" text-anchor="end">20</text><text x="50.5" y="290.5" text-anchor="end">10</text><text x="48.4" y="319.6" text-anchor="end">0</text><text x="50.8" y="350.5" text-anchor="end">-10</text><text x="50.5" y="376.8" text-anchor="end">-20</text><text x="129.67" y="387.6" text-anchor="middle">50</text><text x="206.67" y="387.6" text-anchor="middle">100</text><text x="283.68" y="387.6" text-anchor="middle">150</text><text x="360.68" y="387.6" text-anchor="middle">200</text><text x="437.69" y="387.6" text-anchor="middle">250</text><text x="514.69" y="387.6" text-anchor="middle">300</text><text x="598.4" y="387.7" text-anchor="end">350</text></g><g font-family="Liberation Sans, sans-serif" font-size="12.7" font-weight="bold" fill="#000" stroke="#000" stroke-width="0.1"><text x="277.8" y="401.4">Temperature [K]</text><text font-size="12.5" transform="translate(21.5,184.9) rotate(-90)">Partition function</text><text font-size="12.5" transform="translate(21.3,350.1) rotate(-90)">Difference [%]</text></g><g font-family="Liberation Sans, sans-serif" font-size="12.25" fill="#000" stroke="#000" stroke-width="0.15"><line x1="93" y1="26.7" x2="123" y2="26.7" stroke="#d80000" stroke-width="2.4"/><text x="128.5" y="29.8"><tspan font-weight="bold">Total partition function</tspan> (this work)</text><line x1="93" y1="42.0" x2="123" y2="42.0" stroke="#000" stroke-width="2.0"/><text x="128.5" y="45.8"><tspan font-weight="bold">Rotational partition function</tspan> (this work)</text><line x1="93" y1="69.4" x2="123" y2="69.4" stroke="#0000cc" stroke-width="2.4"/><text x="128.5" y="71.6"><tspan font-weight="bold">Analytical calculation</tspan> (Dang-Nhu et al. 1990)</text><line x1="93" y1="85.9" x2="123" y2="85.9" stroke="#0a700a" stroke-width="2.4"/><text x="128.5" y="89.2"><tspan font-weight="bold">0.4 x HITRAN</tspan> (parsum.dat)</text><ellipse cx="108.9" cy="102.5" rx="4.1" ry="2.75" fill="#000"/><text x="128.5" y="105.9"><tspan font-weight="bold">JPL Molecular Spectroscopy</tspan> (Pearson &amp; Xu 2010)</text></g></svg>
</body></html>
